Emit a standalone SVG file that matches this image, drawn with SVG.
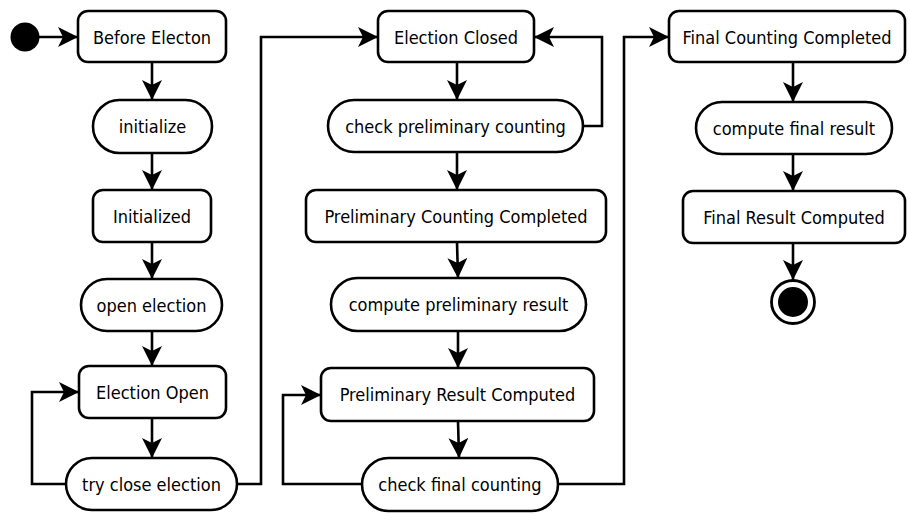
<svg xmlns="http://www.w3.org/2000/svg" width="909" height="514" viewBox="0 0 909 514">
<style>
.n{fill:#fff;stroke:#000;stroke-width:2.6}
.t{font-family:"DejaVu Sans Condensed","DejaVu Sans",Verdana,sans-serif;font-size:18px;text-anchor:middle;fill:#000}
.c{fill:none;stroke:#000;stroke-width:2.6;marker-end:url(#ah)}
</style>
<defs>
<marker id="ah" markerUnits="userSpaceOnUse" viewBox="0 0 20 20" refX="20" refY="10" markerWidth="20" markerHeight="20" orient="auto">
<path d="M0,0 L20,10 L0,20 L5,10 Z" fill="#000"/>
</marker>
</defs>
<rect width="909" height="514" fill="#fff"/>
<g id="connectors">
<path class="c" d="M39,37 L78,37"/>
<path class="c" d="M152,62 L152,100"/>
<path class="c" d="M152,153 L152,190"/>
<path class="c" d="M152,242 L152,279"/>
<path class="c" d="M152,331 L152,366"/>
<path class="c" d="M152,418 L152,458"/>
<path class="c" d="M66,484 L32,484 L32,392 L79,392"/>
<path class="c" d="M237,484 L261,484 L261,37 L378,37"/>
<path class="c" d="M457,62 L457,100"/>
<path class="c" d="M583,126 L602,126 L602,37 L534,37"/>
<path class="c" d="M457,152 L457,190"/>
<path class="c" d="M457,242 L458,278"/>
<path class="c" d="M458,331 L458,368"/>
<path class="c" d="M458,421 L459,458"/>
<path class="c" d="M362,484 L283,484 L283,395 L321,395"/>
<path class="c" d="M558,484 L624,484 L624,37 L669,37"/>
<path class="c" d="M793,62 L793,102"/>
<path class="c" d="M793,154 L793,191"/>
<path class="c" d="M793,243 L793,280"/>
</g>
<g id="start"><circle cx="25" cy="37" r="14.5" fill="#000"/></g>
<g id="before-electon"><rect class="n" x="78" y="11" width="148" height="51" rx="10"/><text class="t" x="152" y="43.5">Before Electon</text></g>
<g id="initialize"><rect class="n" x="93" y="100" width="119" height="53" rx="26.5"/><text class="t" x="152.5" y="133">initialize</text></g>
<g id="initialized"><rect class="n" x="93" y="190" width="118" height="52" rx="10"/><text class="t" x="152" y="222.5">Initialized</text></g>
<g id="open-election"><rect class="n" x="81" y="279" width="141" height="52" rx="26"/><text class="t" x="151.5" y="311.5">open election</text></g>
<g id="election-open"><rect class="n" x="79" y="366" width="147" height="52" rx="10"/><text class="t" x="152.5" y="398.5">Election Open</text></g>
<g id="try-close-election"><rect class="n" x="66" y="458" width="171" height="52" rx="26"/><text class="t" x="151.5" y="490.5">try close election</text></g>
<g id="election-closed"><rect class="n" x="378" y="11" width="156" height="51" rx="10"/><text class="t" x="456" y="43.5">Election Closed</text></g>
<g id="check-preliminary-counting"><rect class="n" x="328" y="100" width="255" height="52" rx="26"/><text class="t" x="455.5" y="132.5">check preliminary counting</text></g>
<g id="preliminary-counting-completed"><rect class="n" x="306" y="190" width="300" height="52" rx="10"/><text class="t" x="456" y="222.5">Preliminary Counting Completed</text></g>
<g id="compute-preliminary-result"><rect class="n" x="331" y="278" width="255" height="53" rx="26.5"/><text class="t" x="458.5" y="311">compute preliminary result</text></g>
<g id="preliminary-result-computed"><rect class="n" x="321" y="368" width="273" height="53" rx="10"/><text class="t" x="457.5" y="401">Preliminary Result Computed</text></g>
<g id="check-final-counting"><rect class="n" x="362" y="458" width="196" height="53" rx="26.5"/><text class="t" x="460" y="491">check final counting</text></g>
<g id="final-counting-completed"><rect class="n" x="669" y="11" width="236" height="51" rx="10"/><text class="t" x="787" y="43.5">Final Counting Completed</text></g>
<g id="compute-final-result"><rect class="n" x="696" y="102" width="196" height="52" rx="26"/><text class="t" x="794" y="134.5">compute final result</text></g>
<g id="final-result-computed"><rect class="n" x="683" y="191" width="222" height="52" rx="10"/><text class="t" x="794" y="223.5">Final Result Computed</text></g>
<g id="end"><circle cx="793" cy="302" r="21.5" fill="#fff" stroke="#000" stroke-width="2.8"/><circle cx="793" cy="302" r="15" fill="#000"/></g>
</svg>
